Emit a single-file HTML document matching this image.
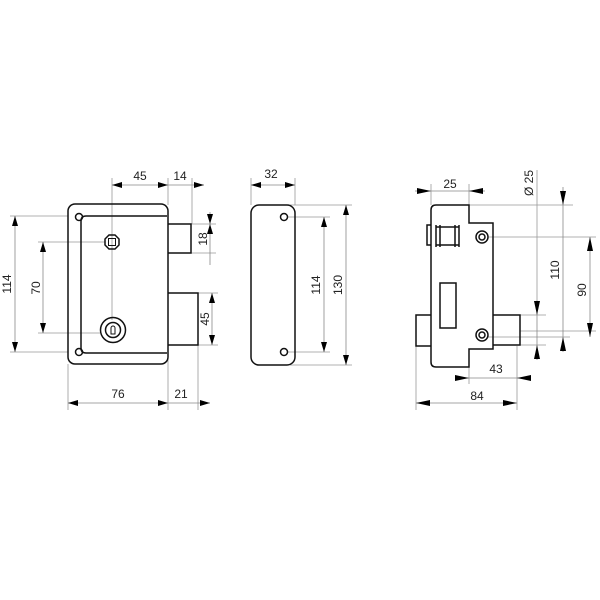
<!DOCTYPE html>
<html><head><meta charset="utf-8"><style>
html,body{margin:0;padding:0;background:#fff;}
svg{display:block;}
text{font-family:"Liberation Sans",sans-serif;font-size:12px;fill:#222;}
</style></head><body>
<svg width="600" height="600" viewBox="0 0 600 600" xmlns="http://www.w3.org/2000/svg">
<defs>
<marker id="a" viewBox="0 0 10 6" refX="10" refY="3" markerWidth="10" markerHeight="6" orient="auto-start-reverse" markerUnits="userSpaceOnUse"><path d="M0,0L10,3L0,6Z" fill="#000"/></marker>
<marker id="b" viewBox="0 0 14 6" refX="14" refY="3" markerWidth="14" markerHeight="6" orient="auto-start-reverse" markerUnits="userSpaceOnUse"><path d="M0,0L14,3L0,6Z" fill="#000"/></marker>
</defs>
<g stroke="#999" stroke-width="0.8" fill="none">
<line x1="112" y1="178" x2="112" y2="320"/>
<line x1="168" y1="178" x2="168" y2="205"/>
<line x1="192" y1="178" x2="192" y2="224"/>
<line x1="10" y1="216" x2="68" y2="216"/>
<line x1="10" y1="352" x2="68" y2="352"/>
<line x1="38" y1="242" x2="105" y2="242"/>
<line x1="38" y1="333" x2="100" y2="333"/>
<line x1="191" y1="224" x2="216" y2="224"/>
<line x1="191" y1="253" x2="216" y2="253"/>
<line x1="198" y1="293" x2="218" y2="293"/>
<line x1="198" y1="345" x2="218" y2="345"/>
<line x1="68" y1="364" x2="68" y2="410"/>
<line x1="168" y1="345" x2="168" y2="410"/>
<line x1="198" y1="345" x2="198" y2="410"/>
<line x1="251" y1="178" x2="251" y2="205"/>
<line x1="295" y1="178" x2="295" y2="205"/>
<line x1="287" y1="217" x2="330" y2="217"/>
<line x1="287" y1="352" x2="330" y2="352"/>
<line x1="290" y1="205" x2="352" y2="205"/>
<line x1="290" y1="365" x2="352" y2="365"/>
<line x1="431" y1="184" x2="431" y2="205"/>
<line x1="469" y1="184" x2="469" y2="205"/>
<line x1="469" y1="205" x2="573" y2="205"/>
<line x1="488" y1="237" x2="596" y2="237"/>
<line x1="488" y1="337" x2="570" y2="337"/>
<line x1="520" y1="315" x2="546" y2="315"/>
<line x1="520" y1="345" x2="546" y2="345"/>
<line x1="520" y1="331" x2="596" y2="331"/>
<line x1="537" y1="170" x2="537" y2="300"/>
<line x1="416" y1="346" x2="416" y2="410"/>
<line x1="469" y1="367" x2="469" y2="384"/>
<line x1="517" y1="346" x2="517" y2="410"/>
</g>
<g stroke="#888" stroke-width="0.8" fill="none">
<line x1="112" y1="185" x2="168" y2="185" marker-start="url(#a)" marker-end="url(#a)"/>
<line x1="168" y1="185" x2="204" y2="185" marker-end="url(#a)"/>
<line x1="210" y1="212" x2="210" y2="224" marker-end="url(#a)"/>
<line x1="210" y1="224" x2="210" y2="265" marker-start="url(#a)"/>
<line x1="212" y1="293" x2="212" y2="345" marker-start="url(#a)" marker-end="url(#a)"/>
<line x1="15" y1="216" x2="15" y2="352" marker-start="url(#a)" marker-end="url(#a)"/>
<line x1="43" y1="242" x2="43" y2="333" marker-start="url(#a)" marker-end="url(#a)"/>
<line x1="68" y1="403" x2="168" y2="403" marker-start="url(#a)" marker-end="url(#a)"/>
<line x1="168" y1="403" x2="210" y2="403" marker-end="url(#a)"/>
<line x1="251" y1="185" x2="295" y2="185" marker-start="url(#a)" marker-end="url(#a)"/>
<line x1="324" y1="217" x2="324" y2="352" marker-start="url(#a)" marker-end="url(#a)"/>
<line x1="346" y1="205" x2="346" y2="365" marker-start="url(#a)" marker-end="url(#a)"/>
<line x1="415" y1="191" x2="431" y2="191" marker-end="url(#b)"/>
<line x1="431" y1="191" x2="469" y2="191"/>
<line x1="485" y1="191" x2="469" y2="191" marker-end="url(#b)"/>
<line x1="537" y1="300" x2="537" y2="315" marker-end="url(#b)"/>
<line x1="537" y1="360" x2="537" y2="345" marker-end="url(#b)"/>
<line x1="537" y1="315" x2="537" y2="345"/>
<line x1="563" y1="187" x2="563" y2="205" marker-end="url(#b)"/>
<line x1="563" y1="205" x2="563" y2="337"/>
<line x1="563" y1="352" x2="563" y2="337" marker-end="url(#b)"/>
<line x1="590" y1="237" x2="590" y2="337" marker-start="url(#b)" marker-end="url(#b)"/>
<line x1="455" y1="378" x2="469" y2="378" marker-end="url(#b)"/>
<line x1="469" y1="378" x2="517" y2="378"/>
<line x1="531" y1="378" x2="517" y2="378" marker-end="url(#b)"/>
<line x1="416" y1="403" x2="517" y2="403" marker-start="url(#b)" marker-end="url(#b)"/>
</g>
<g stroke="#111" stroke-width="1.5" fill="none">
<rect x="68" y="204" width="100" height="160" rx="7"/>
<path d="M167,216 H86 Q81,216 81,221 V348 Q81,353 86,353 H167"/>
<circle cx="79" cy="217" r="3.5"/>
<circle cx="79" cy="352" r="3.5"/>
<polygon points="109,235 115,235 119,239 119,245 115,249 109,249 105,245 105,239"/>
<rect x="108.5" y="238.5" width="7" height="7" stroke-width="1"/>
<circle cx="113" cy="330" r="12.5"/>
<circle cx="113" cy="330" r="7.5"/>
<path d="M111,334 V328 A2,2 0 0 1 115,328 V334 Z" stroke-width="1"/>
<path d="M168,224 H191 V253 H168"/>
<path d="M168,293 H198 V345 H168"/>
<rect x="251" y="205" width="44" height="160" rx="8"/>
<circle cx="284" cy="217" r="3.5"/>
<circle cx="284" cy="352" r="3.5"/>
<path d="M436,205 H469 V223 H493 V349 H469 V367 H436 Q431,367 431,362 V210 Q431,205 436,205 Z"/>
<path d="M431,225 H427 V245 H431"/>
<path d="M436,225 V247 M440,225 V247 M436,227 H459 M436,245 H459 M455,225 V247 M459,225 V247"/>
<rect x="440" y="283" width="16" height="45"/>
<circle cx="482" cy="237" r="6"/><circle cx="482" cy="237" r="3"/>
<circle cx="482" cy="335" r="6"/><circle cx="482" cy="335" r="3"/>
<path d="M431,315 H416 V346 H431"/>
<path d="M493,315 H520 V345 H493"/>
</g>
<text x="140" y="180" text-anchor="middle">45</text>
<text x="180" y="180" text-anchor="middle">14</text>
<text x="118" y="398" text-anchor="middle">76</text>
<text x="181" y="398" text-anchor="middle">21</text>
<text transform="translate(207,239) rotate(-90)" text-anchor="middle">18</text>
<text transform="translate(209,319) rotate(-90)" text-anchor="middle">45</text>
<text transform="translate(11,284) rotate(-90)" text-anchor="middle">114</text>
<text transform="translate(40,288) rotate(-90)" text-anchor="middle">70</text>
<text x="271" y="178" text-anchor="middle">32</text>
<text transform="translate(320,285) rotate(-90)" text-anchor="middle">114</text>
<text transform="translate(342,285) rotate(-90)" text-anchor="middle">130</text>
<text x="450" y="188" text-anchor="middle">25</text>
<text transform="translate(533,183) rotate(-90)" text-anchor="middle">Ø 25</text>
<text transform="translate(559,270) rotate(-90)" text-anchor="middle">110</text>
<text transform="translate(586,290) rotate(-90)" text-anchor="middle">90</text>
<text x="496" y="373" text-anchor="middle">43</text>
<text x="477" y="400" text-anchor="middle">84</text>
</svg>
</body></html>
